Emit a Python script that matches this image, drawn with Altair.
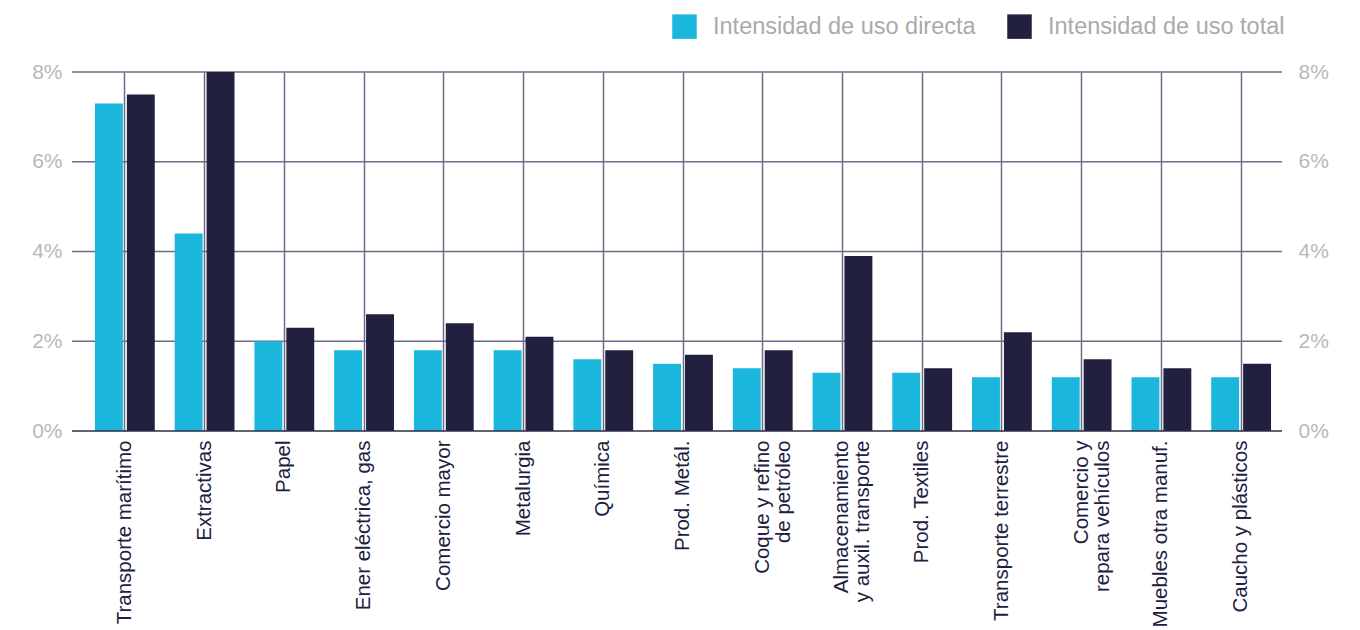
import altair as alt
import pandas as pd

categories = ["Transporte marítimo", "Extractivas", "Papel", "Ener eléctrica, gas",
              "Comercio mayor", "Metalurgia", "Química", "Prod. Metál.",
              "Coque y refino|de petróleo", "Almacenamiento|y auxil. transporte",
              "Prod. Textiles", "Transporte terrestre", "Comercio y|repara vehículos",
              "Muebles otra manuf.", "Caucho y plásticos"]
directa = [7.3, 4.4, 2.0, 1.8, 1.8, 1.8, 1.6, 1.5, 1.4, 1.3, 1.3, 1.2, 1.2, 1.2, 1.2]
total = [7.5, 8.0, 2.3, 2.6, 2.4, 2.1, 1.8, 1.7, 1.8, 3.9, 1.4, 2.2, 1.6, 1.4, 1.5]
series = ["Intensidad de uso directa", "Intensidad de uso total"]
ticks = [0, 2, 4, 6, 8]

colors = ["#1BB6DC", "#21203F"]
FONT = "Liberation Sans"
W, H = 1196, 359

rows = []
for c, d, t in zip(categories, directa, total):
    rows.append({"cat": c, "serie": series[0], "val": d})
    rows.append({"cat": c, "serie": series[1], "val": t})
df = pd.DataFrame(rows)
grid_df = pd.DataFrame({"t": [v for v in ticks if v != 0]})
base_df = pd.DataFrame({"t": [0]})

yscale = alt.Scale(domain=[0, 8], nice=False)

grid = alt.Chart(grid_df).mark_rule(color="#6c6c86", strokeWidth=1.5).encode(
    y=alt.Y("t:Q", scale=yscale,
            axis=alt.Axis(orient="right", title=None, values=ticks, labelExpr="datum.value + '%'",
                          domain=False, ticks=False, grid=False, labelPadding=16, offset=1,
                          labelFontSize=21, labelColor="#b8b8b8", labelFont=FONT)),
    x=alt.value(-13), x2=alt.value(W + 1),
)

bars = alt.Chart(df).mark_bar().encode(
    x=alt.X("cat:N", sort=categories,
            scale=alt.Scale(paddingInner=0.25, paddingOuter=0.125),
            axis=alt.Axis(title=None, labelAngle=-90, labelExpr="split(datum.label, '|')",
                          labelFontSize=20.5, labelColor="#21203F", labelFont=FONT,
                          labelPadding=9, labelLineHeight=21, labelLimit=0,
                          grid=True, gridColor="#6c6c86", gridWidth=1.5,
                          domain=False, ticks=False)),
    xOffset=alt.XOffset("serie:N", sort=series, scale=alt.Scale(paddingInner=0.125, paddingOuter=0)),
    y=alt.Y("val:Q", scale=yscale,
            axis=alt.Axis(orient="left", title=None, values=ticks, labelExpr="datum.value + '%'",
                          domain=False, ticks=False, grid=False, labelPadding=10, offset=13,
                          labelFontSize=21, labelColor="#b8b8b8", labelFont=FONT)),
    color=alt.Color("serie:N", sort=series,
                    scale=alt.Scale(domain=series, range=colors),
                    legend=alt.Legend(title=None, orient="none", legendX=587, legendY=-58,
                                      direction="horizontal", symbolType="square", symbolSize=600,
                                      symbolStrokeWidth=0, labelFontSize=23.5, labelColor="#aaaaaa",
                                      labelFont=FONT, labelOffset=16, columnPadding=31,
                                      labelLimit=0)),
)

baseline = alt.Chart(base_df).mark_rule(color="#2e2d4a", strokeWidth=1.5).encode(
    y=alt.Y("t:Q", scale=yscale, axis=None),
    x=alt.value(-13), x2=alt.value(W + 1),
)

chart = alt.layer(grid, bars, baseline).resolve_axis(y="independent").properties(
    width=W, height=H,
    autosize=alt.AutoSizeParams(type="none"),
    padding={"left": 77, "top": 64, "right": 70, "bottom": 210},
).configure_view(stroke=None)

chart.save("out.html", embed_options={"renderer": "svg", "actions": False})
